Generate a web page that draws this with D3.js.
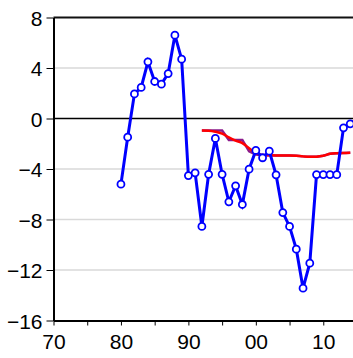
<!DOCTYPE html>
<html>
<head>
<meta charset="utf-8">
<title>Chart</title>
<script src="https://d3js.org/d3.v7.min.js"></script>
<style>
  body { margin: 0; background: #fff; }
  svg text { font-family: "Liberation Sans", Arial, sans-serif; font-size: 21px; fill: #000; }
</style>
</head>
<body>
<script>
// blue series, 1980-2014
var blueYears = d3.range(1980, 2015);
var blueValues = [-5.2, -1.48, 1.95, 2.46, 4.49, 2.93, 2.72, 3.56, 6.6, 4.7,
                  -4.52, -4.3, -8.55, -4.42, -1.58, -4.42, -6.6, -5.33, -6.81, -4.01,
                  -2.53, -3.11, -2.59, -4.46, -7.45, -8.55, -10.35, -13.44, -11.46, -4.44,
                  -4.44, -4.44, -4.45, -0.74, -0.42];
// step series (mostly under the red one), 1992-2014
var stepYears = d3.range(1992, 2015);
var stepValues = [-0.95, -0.95, -0.95, -0.95, -1.7, -1.7, -1.7, -2.6, -2.85, -2.92,
                  -2.92, -2.93, -2.93, -2.93, -2.95, -3.0, -3.03, -3.02, -2.95, -2.8,
                  -2.75, -2.73, -2.72];
// smoothed red series, 1992-2014
var redYears = d3.range(1992, 2015);
var redValues = [-0.95, -0.97, -1.05, -1.2, -1.5, -1.75, -1.95, -2.35, -2.75, -2.9,
                 -2.92, -2.93, -2.93, -2.93, -2.95, -3.0, -3.03, -3.02, -2.95, -2.8,
                 -2.75, -2.73, -2.72];
var yTicks = [8, 4, 0, -4, -8, -12, -16];
var xTicks = [1970, 1980, 1990, 2000, 2010];
var xTickLabels = ["70", "80", "90", "00", "10"];

var width = 353, height = 358;
var mLeft = 53.5, mTop = 17.5, mBottom = 320.5, mRight = 357;

var svg = d3.select("body").append("svg")
    .attr("width", width)
    .attr("height", height);

var x = d3.scaleLinear().domain([1970, 2015]).range([mLeft, mRight]);
var y = d3.scaleLinear().domain([-16, 8]).range([mBottom, mTop]);

// grid lines
svg.selectAll(".grid")
    .data(yTicks.filter(function(d) { return d !== 0 && d !== 8 && d !== -16; }))
    .enter().append("line")
    .attr("x1", mLeft).attr("x2", mRight)
    .attr("y1", function(d) { return y(d); })
    .attr("y2", function(d) { return y(d); })
    .attr("stroke", "#d9d9d9")
    .attr("stroke-width", 1.5);

// zero line
svg.append("line")
    .attr("x1", mLeft).attr("x2", mRight)
    .attr("y1", y(0)).attr("y2", y(0))
    .attr("stroke", "#000").attr("stroke-width", 1.3);

// top frame
svg.append("line")
    .attr("x1", mLeft).attr("x2", mRight)
    .attr("y1", y(8)).attr("y2", y(8))
    .attr("stroke", "#111").attr("stroke-width", 2);

// y axis
var yAxis = d3.axisLeft(y).tickValues(yTicks).tickSize(7).tickPadding(4).tickSizeOuter(0);
var gy = svg.append("g").attr("transform", "translate(" + mLeft + ",0)").call(yAxis);
gy.select(".domain").attr("stroke-width", 2);
gy.selectAll("text").style("font-size", "21px").attr("dy", "0.36em");

// x axis, ticks every 5 years
var xAxis = d3.axisBottom(x).tickValues(d3.range(1970, 2015, 5)).tickSize(5)
    .tickFormat(function(d) {
        var i = xTicks.indexOf(d);
        return i >= 0 ? xTickLabels[i] : "";
    })
    .tickSizeOuter(0).tickPadding(9);
var gx = svg.append("g").attr("transform", "translate(0," + mBottom + ")").call(xAxis);
gx.select(".domain").attr("stroke-width", 2);
gx.selectAll("text").style("font-size", "21px").attr("dy", "0.71em");

// step series
var stepLine = d3.line()
    .x(function(d, i) { return x(stepYears[i]); })
    .y(function(d) { return y(d); });
svg.append("path")
    .datum(stepValues)
    .attr("d", stepLine)
    .attr("fill", "none")
    .attr("stroke", "#8b1a8b")
    .attr("stroke-width", 2.5);

// red smoothed
var redLine = d3.line()
    .x(function(d, i) { return x(redYears[i]); })
    .y(function(d) { return y(d); })
    .curve(d3.curveMonotoneX);
svg.append("path")
    .datum(redValues)
    .attr("d", redLine)
    .attr("fill", "none")
    .attr("stroke", "#ff0000")
    .attr("stroke-width", 2.5);

// blue series with markers
var blueLine = d3.line()
    .x(function(d, i) { return x(blueYears[i]); })
    .y(function(d) { return y(d); });
svg.append("path")
    .datum(blueValues)
    .attr("d", blueLine)
    .attr("fill", "none")
    .attr("stroke", "#0000ff")
    .attr("stroke-width", 3);

svg.selectAll(".pt")
    .data(blueValues)
    .enter().append("circle")
    .attr("cx", function(d, i) { return x(blueYears[i]); })
    .attr("cy", function(d) { return y(d); })
    .attr("r", 3.5)
    .attr("fill", "#fff")
    .attr("stroke", "#0000ff")
    .attr("stroke-width", 1.8);
</script>
</body>
</html>
